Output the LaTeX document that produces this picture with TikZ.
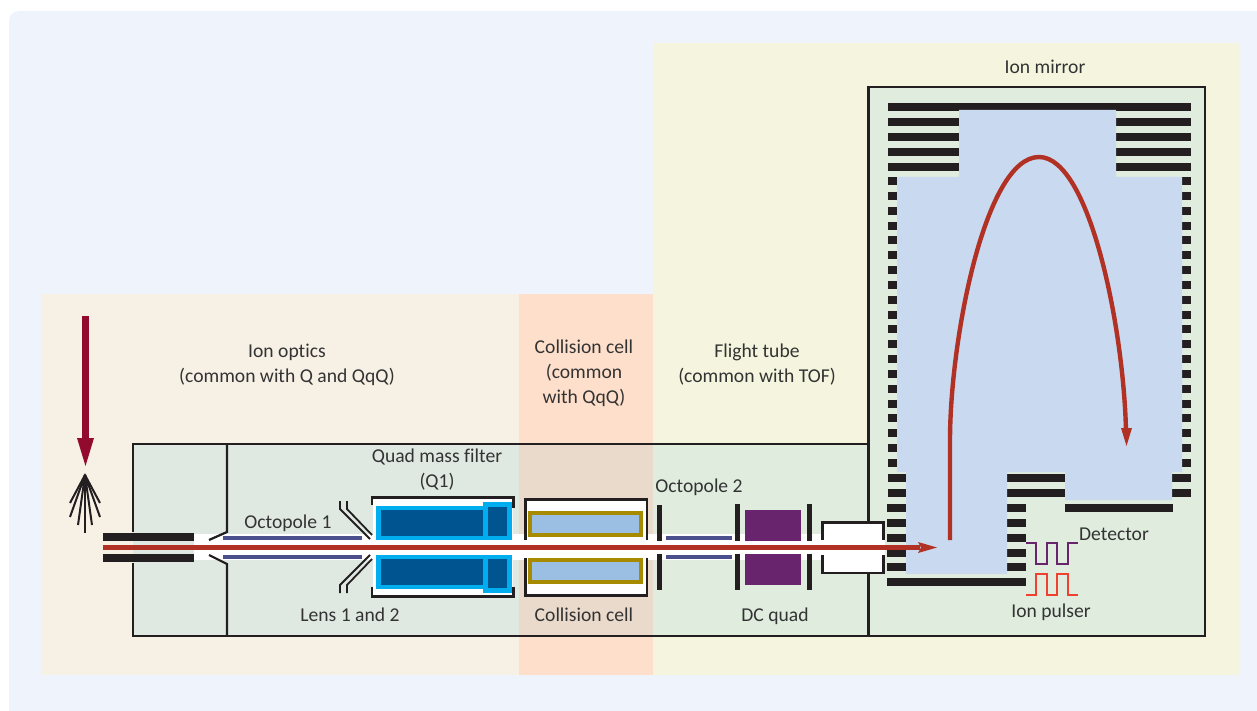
\documentclass[tikz,border=0pt]{standalone}
\usepackage{fontspec}
\setmainfont[Ligatures=NoCommon]{Carlito}
\definecolor{pagebg}{HTML}{EFF3FC}
\definecolor{peach}{HTML}{F7F0E5}
\definecolor{orangez}{HTML}{FEDFCB}
\definecolor{yellowz}{HTML}{F5F5DF}
\definecolor{boxa}{HTML}{E0E8E2}
\definecolor{boxb}{HTML}{EADACB}
\definecolor{boxc}{HTML}{DFECDE}
\definecolor{inkk}{HTML}{231F20}
\definecolor{beam}{HTML}{B13224}
\definecolor{octo}{HTML}{4B4F8B}
\definecolor{cyanq}{HTML}{00AEEF}
\definecolor{darkq}{HTML}{005490}
\definecolor{gold}{HTML}{A68A00}
\definecolor{lblue}{HTML}{9ABFE3}
\definecolor{purp}{HTML}{68246D}
\definecolor{mirror}{HTML}{C9DAF0}
\definecolor{dred}{HTML}{930A2F}
\definecolor{pulsered}{HTML}{EF4030}
\definecolor{txt}{HTML}{333333}
\tikzset{
  lbl/.style={text=txt,font=\fontsize{19.6}{20}\selectfont,inner sep=0pt,align=center,anchor=base},
  frame/.style={draw=inkk,line width=2.2pt},
  wire/.style={draw=inkk,line width=1.8pt},
  spray/.style={draw=inkk,line width=2pt}
}
\begin{document}
\begin{tikzpicture}[x=1pt,y=-1pt]
\useasboundingbox (0,0) rectangle (1257,711);
\fill[white] (0,0) rectangle (1257,711);
% zones
\fill[pagebg,rounded corners=10pt] (9,11) rectangle (1270,725);
\fill[peach] (41,294) rectangle (519,675);
\fill[orangez] (519,294) rectangle (653,675);
\fill[yellowz] (653,43) rectangle (1240,675);
% box fills
\fill[boxa] (133,444) rectangle (519,636);
\fill[boxb] (519,444) rectangle (653,636);
\fill[boxc] (653,444) rectangle (869,636);
\fill[boxc] (869,87) rectangle (1205,636);
% white channel
\fill[white] (194,534) rectangle (885,560);
\fill[white] (373,498) rectangle (513,596);
\fill[white] (525,499) rectangle (647,596);
\fill[white] (822,522) rectangle (883,573);
% frames
\draw[frame] (133,532) -- (133,444) -- (869,444);
\draw[frame] (133,563) -- (133,636) -- (1205,636) -- (1205,87) -- (868.5,87) -- (868.5,522);
\draw[frame] (868.5,573) -- (868.5,636);
\draw[frame] (227,444) -- (227,532) -- (209,540);
\draw[frame] (227,636) -- (227,564) -- (209,555);
% inlet capillary
\fill[inkk] (103,533) rectangle (194,541);
\fill[inkk] (103,554) rectangle (194,562);
% octopole 1
\fill[octo] (223,536) rectangle (362,540);
\fill[octo] (223,555) rectangle (362,559);
% lenses
\draw[wire] (340,501) -- (340,509) -- (370,539);
\draw[wire] (347,501) -- (347,509) -- (372,535);
\draw[wire] (340,593) -- (340,585) -- (370,555);
\draw[wire] (347,593) -- (347,585) -- (372,559);
% quad mass filter
\draw[frame] (372,505) -- (372,497.5) -- (513.5,497.5) -- (513.5,508);
\draw[frame] (372,587) -- (372,596.5) -- (513.5,596.5) -- (513.5,587);
\fill[cyanq] (376,506) rectangle (512,540);
\fill[cyanq] (483,502) rectangle (512,540);
\fill[darkq] (381,510) rectangle (483,536);
\fill[darkq] (488,507) rectangle (507,536);
\fill[cyanq] (376,555) rectangle (512,589);
\fill[cyanq] (483,555) rectangle (512,593);
\fill[darkq] (381,559) rectangle (483,585);
\fill[darkq] (488,559) rectangle (507,588);
% collision cell
\draw[frame] (525.5,540) -- (525.5,499.5) -- (647,499.5) -- (647,540);
\draw[frame] (525.5,558) -- (525.5,595.5) -- (647,595.5) -- (647,558);
\draw[gold,line width=4.2pt,fill=lblue] (530.1,513.1) rectangle (640.9,534.9);
\draw[gold,line width=4.2pt,fill=lblue] (530.1,560.1) rectangle (640.9,581.9);
% lenses and octopole 2
\fill[inkk] (657,505) rectangle (662,541);
\fill[inkk] (657,554) rectangle (662,590);
\fill[inkk] (735,504) rectangle (740,541);
\fill[inkk] (735,554) rectangle (740,590);
\fill[inkk] (807,504) rectangle (812,541);
\fill[inkk] (807,554) rectangle (812,590);
\fill[octo] (666,536) rectangle (732,540);
\fill[octo] (666,555) rectangle (732,559);
\fill[purp] (745,510) rectangle (801,541);
\fill[purp] (745,554) rectangle (801,585);
% exit box
\draw[frame] (822.5,540) -- (822.5,522.5) -- (883.5,522.5) -- (883.5,540);
\draw[frame] (822.5,555) -- (822.5,573) -- (883.5,573) -- (883.5,555);
% mirror bars
\fill[inkk] (888,103) rectangle (1191,111);
\foreach \y in {118,133,148,163}{
  \fill[inkk] (888,\y) rectangle (1191,\y+8);
}
\foreach \k in {0,...,19}{
  \pgfmathsetmacro{\yy}{177+282*\k/19}
  \fill[inkk] (888,\yy) rectangle (1191,\yy+8);
}
\foreach \y in {474,489}{
  \fill[inkk] (888,\y) rectangle (1065,\y+8);
  \fill[inkk] (1172,\y) rectangle (1191,\y+8);
}
\foreach \y in {504,519,534,549,563}{
  \fill[inkk] (887,\y) rectangle (1026,\y+8);
}
\fill[inkk] (887,578) rectangle (1026,586);
% mirror field
\fill[mirror] (959,110) -- (1116,110) -- (1116,177) -- (1182,177) -- (1182,472)
  -- (1172,472) -- (1172,500) -- (1065,500) -- (1065,472) -- (1007,472)
  -- (1007,574) -- (906,574) -- (906,472) -- (897,472) -- (897,177) -- (959,177) -- cycle;
\fill[inkk] (1065,504) rectangle (1173,512);
% pulses
\draw[purp,line width=1.7pt] (1026,543) -- (1036,543) -- (1036,564) -- (1047,564) -- (1047,543) -- (1057,543) -- (1057,564) -- (1068,564) -- (1068,543) -- (1078,543);
\draw[pulsered,line width=1.7pt] (1026,595) -- (1036,595) -- (1036,574) -- (1047,574) -- (1047,595) -- (1057,595) -- (1057,574) -- (1068,574) -- (1068,595) -- (1078,595);
% beam
\fill[beam] (103,545) rectangle (920,550);
\fill[beam] (918,542) -- (937,547.5) -- (918,553) -- (921,547.5) -- cycle;
\draw[beam,line width=4.4pt] (950,540) -- (950,440) .. controls (950,340) and (985,157) .. (1039,157) .. controls (1090,157) and (1124,330) .. (1126,432);
\fill[beam] (1121,428) -- (1132,428) -- (1126.5,446) -- cycle;
% sample arrow and spray
\fill[dred] (82,316) rectangle (89,439);
\fill[dred] (77,438) -- (94,438) -- (85.5,466) -- cycle;
\fill[inkk] (85,473) -- (79,486) -- (91,486) -- cycle;
\foreach \px/\py in {70/503,70/517,78/525,85/533,92/525,100/517,100/503}{
  \draw[spray] (85,475) -- (\px,\py);
}
% labels
\node[lbl] (t1) at (1045,73.5) {Ion mirror};
\node[lbl] (t2) at (287,357.5) {Ion optics};
\node[lbl] (t3) at (287,382.5) {(common with Q and QqQ)};
\node[lbl] (t4) at (584,353.5) {Collision cell};
\node[lbl] (t5) at (584,378.5) {(common};
\node[lbl] (t6) at (584,403.5) {with QqQ)};
\node[lbl] (t7) at (757,357.5) {Flight tube};
\node[lbl] (t8) at (757,382.5) {(common with TOF)};
\node[lbl] (t9) at (437,462.5) {Quad mass filter};
\node[lbl] (t10) at (437,487.5) {(Q1)};
\node[lbl] (t11) at (288,528.5) {Octopole 1};
\node[lbl] (t12) at (699,492.5) {Octopole 2};
\node[lbl] (t13) at (350,621.5) {Lens 1 and 2};
\node[lbl] (t14) at (584,621.5) {Collision cell};
\node[lbl] (t15) at (775,621.5) {DC quad};
\node[lbl] (t16) at (1114,540.5) {Detector};
\node[lbl] (t17) at (1051,617.5) {Ion pulser};
\end{tikzpicture}
\end{document}
